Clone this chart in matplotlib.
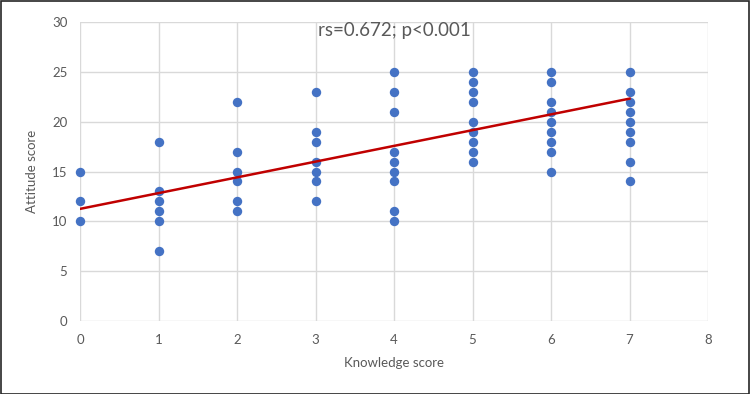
import matplotlib.pyplot as plt
import numpy as np
from matplotlib.patches import Rectangle

# knowledge score -> attitude scores
knowledge = [0, 1, 2, 3, 4, 5, 6, 7]
attitude = [
    [15, 12, 10],
    [18, 13, 12, 11, 10, 7],
    [22, 17, 15, 14, 12, 11],
    [23, 19, 18, 16, 15, 14, 12],
    [25, 23, 21, 17, 16, 15, 14, 11, 10],
    [25, 24, 23, 22, 20, 19, 18, 17, 16],
    [25, 24, 22, 21, 20, 19, 18, 17, 15],
    [25, 23, 22, 21, 20, 19, 18, 16, 14],
]
# trend line as drawn in the original (fit on the full data set)
trend_intercept = 11.25
trend_slope = 1.58
annotation = "rs=0.672; p<0.001"


def main():
    xs = np.concatenate([[k] * len(v) for k, v in zip(knowledge, attitude)])
    ys = np.concatenate(attitude).astype(float)

    plt.rcParams["font.family"] = ["Lato", "DejaVu Sans"]
    grey = "#595959"

    fig = plt.figure(figsize=(7.5, 3.94), dpi=100)
    ax = fig.add_axes([80 / 750, 1 - 321 / 394, 628 / 750, 299 / 394])

    ax.scatter(xs, ys, s=46, color="#4472C4", zorder=3, linewidths=0,
               clip_on=False)

    lx = np.array([min(knowledge), max(knowledge)])
    ax.plot(lx, trend_intercept + trend_slope * lx, color="#C00000", lw=1.8,
            zorder=4)

    ax.set_xlim(0, 8)
    ax.set_ylim(0, 30)
    ax.set_xticks(range(0, 9))
    ax.set_yticks(range(0, 31, 5))
    ax.grid(True, color="#D9D9D9", lw=1)
    ax.set_axisbelow(True)
    for s in ax.spines.values():
        s.set_visible(False)
    ax.tick_params(length=0, colors=grey, labelsize=9.5, pad=9)

    ax.set_xlabel("Knowledge score", color=grey, fontsize=9.5, labelpad=8)
    ax.set_ylabel("Attitude score", color=grey, fontsize=9.5, labelpad=10)
    ax.text(0.5, 0.97, annotation, transform=ax.transAxes, ha="center",
            va="center", fontsize=13.5, color=grey)

    fig.patches.append(Rectangle((0.5 / 750, 0.5 / 394), 748.5 / 750,
                                 392.5 / 394, transform=fig.transFigure,
                                 fill=False, edgecolor="#262626", lw=1.2))

    plt.savefig("out.png", dpi=100)
    plt.close(fig)


if __name__ == "__main__":
    main()
